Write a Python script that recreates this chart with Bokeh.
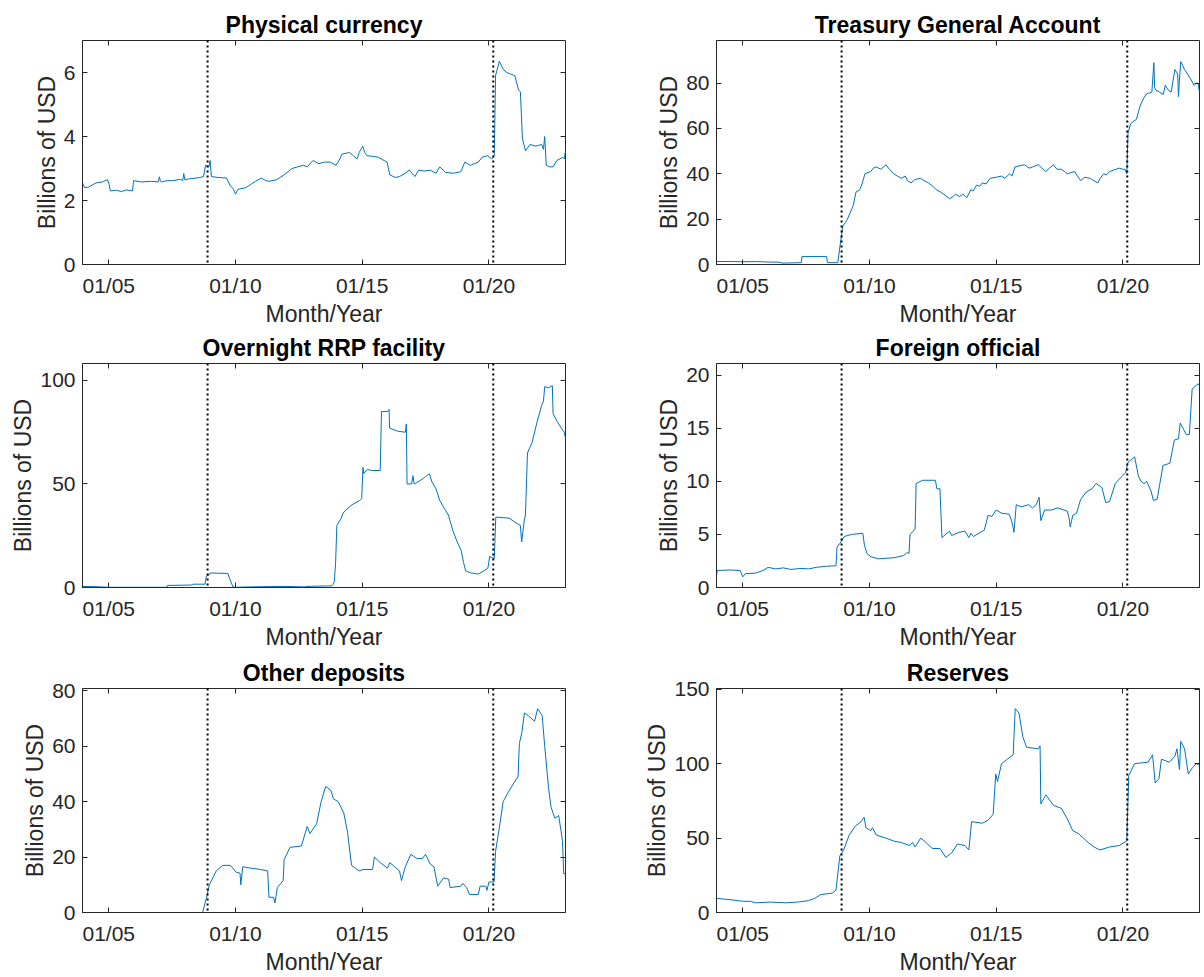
from bokeh.plotting import figure
from bokeh.models import Range1d, FixedTicker, LinearAxis, Span
from bokeh.layouts import column, row
from bokeh.embed import file_html
from bokeh.resources import INLINE

# ---------------- data (decimal year, billions of USD) ----------------
X_START, X_END = 2003.965, 2023.02
x_tick_years = [2005, 2010, 2015, 2020]
x_tick_labels = ["01/05", "01/10", "01/15", "01/20"]
event_years = [2008.9, 2020.17]

titles = ["Physical currency", "Treasury General Account", "Overnight RRP facility",
          "Foreign official", "Other deposits", "Reserves"]
y_limits = [7.0, 98.8, 108.2, 21.1, 80.8, 150.5]
y_ticks = [[0, 2, 4, 6], [0, 20, 40, 60, 80], [0, 50, 100],
           [0, 5, 10, 15, 20], [0, 20, 40, 60, 80], [0, 50, 100, 150]]

physical_currency = [
    (2003.965, 2.55), (2004.05, 2.4), (2004.2, 2.42), (2004.5, 2.55), (2004.75, 2.58),
    (2004.95, 2.65), (2005.02, 2.5), (2005.06, 2.3), (2005.3, 2.32), (2005.5, 2.28),
    (2005.7, 2.33), (2005.94, 2.3), (2005.98, 2.62), (2006.3, 2.58), (2006.7, 2.6),
    (2006.95, 2.58), (2007.0, 2.74), (2007.04, 2.6), (2007.08, 2.58), (2007.3, 2.62),
    (2007.53, 2.62), (2007.8, 2.66), (2007.92, 2.63), (2007.96, 2.84), (2008.0, 2.65),
    (2008.2, 2.68), (2008.44, 2.7), (2008.6, 2.72), (2008.74, 2.75), (2008.82, 3.1),
    (2008.95, 3.05), (2009.0, 3.25), (2009.05, 2.75), (2009.3, 2.72), (2009.65, 2.7),
    (2009.8, 2.45), (2009.9, 2.38), (2010.0, 2.2), (2010.1, 2.35), (2010.41, 2.4),
    (2010.6, 2.5), (2010.79, 2.6), (2011.02, 2.7), (2011.2, 2.62), (2011.32, 2.6),
    (2011.62, 2.65), (2011.92, 2.8), (2012.23, 3.0), (2012.45, 3.05), (2012.68, 3.1),
    (2012.83, 3.05), (2013.06, 3.25), (2013.29, 3.15), (2013.5, 3.2), (2013.74, 3.2),
    (2013.97, 3.1), (2014.12, 3.3), (2014.2, 3.45), (2014.5, 3.5), (2014.65, 3.4),
    (2014.8, 3.3), (2014.88, 3.5), (2015.02, 3.7), (2015.1, 3.5), (2015.18, 3.4),
    (2015.4, 3.38), (2015.64, 3.35), (2015.86, 3.25), (2015.98, 3.2), (2016.09, 2.8),
    (2016.3, 2.72), (2016.47, 2.75), (2016.7, 2.85), (2016.85, 2.95), (2017.08, 2.75),
    (2017.23, 2.95), (2017.45, 2.92), (2017.68, 2.95), (2017.91, 2.85), (2018.06, 3.05),
    (2018.29, 2.88), (2018.6, 2.85), (2018.89, 2.9), (2019.05, 3.2), (2019.27, 3.1),
    (2019.58, 3.2), (2019.73, 3.35), (2019.95, 3.4), (2020.11, 3.3), (2020.17, 3.35),
    (2020.21, 3.4), (2020.26, 5.9), (2020.41, 6.35), (2020.56, 6.1), (2020.7, 6.0),
    (2020.86, 5.95), (2021.02, 5.9), (2021.17, 5.45), (2021.24, 5.4), (2021.32, 3.95),
    (2021.44, 3.55), (2021.62, 3.75), (2021.85, 3.7), (2022.08, 3.75), (2022.15, 3.6),
    (2022.2, 4.0), (2022.26, 3.1), (2022.4, 3.05), (2022.53, 3.05), (2022.68, 3.25),
    (2022.91, 3.35), (2022.97, 3.3), (2023.02, 3.55),
]

treasury_general_account = [
    (2003.97, 1.3), (2004.5, 1.35), (2005.0, 1.2), (2005.5, 1.3), (2006.0, 1.1),
    (2006.47, 1.0), (2006.55, 0.6), (2007.31, 0.8), (2007.34, 3.5), (2008.31, 3.5),
    (2008.34, 0.8), (2008.75, 0.8), (2008.86, 10), (2008.95, 17), (2009.05, 18.5),
    (2009.13, 20), (2009.36, 26), (2009.47, 32), (2009.62, 33), (2009.72, 36),
    (2009.82, 40), (2010.05, 41), (2010.15, 42.5), (2010.27, 43), (2010.45, 42),
    (2010.65, 44), (2010.75, 42.5), (2010.96, 40), (2011.1, 39), (2011.26, 38),
    (2011.41, 39), (2011.5, 37), (2011.64, 36), (2011.8, 37.5), (2012.02, 38),
    (2012.15, 37), (2012.33, 36), (2012.5, 34.5), (2012.63, 33), (2012.8, 32),
    (2012.93, 31), (2013.16, 29), (2013.3, 30), (2013.39, 31), (2013.55, 30),
    (2013.7, 31), (2013.84, 29.5), (2014.0, 33), (2014.1, 32.5), (2014.22, 35),
    (2014.35, 34.5), (2014.45, 36), (2014.6, 35.5), (2014.76, 38), (2015.0, 38.5),
    (2015.21, 39), (2015.35, 38), (2015.52, 40), (2015.62, 39), (2015.74, 43),
    (2015.9, 43.5), (2016.12, 44), (2016.3, 42.5), (2016.43, 43), (2016.66, 44),
    (2016.8, 42.5), (2016.96, 41), (2017.1, 42.5), (2017.26, 44), (2017.4, 42),
    (2017.57, 42), (2017.7, 41), (2017.8, 40), (2017.95, 40.5), (2018.1, 41),
    (2018.2, 39), (2018.33, 37), (2018.5, 38.5), (2018.71, 38), (2018.85, 37),
    (2019.01, 36), (2019.1, 38), (2019.24, 40), (2019.35, 39.5), (2019.47, 41),
    (2019.6, 41.5), (2019.85, 42.5), (2020.0, 42), (2020.08, 42), (2020.15, 40),
    (2020.2, 58), (2020.3, 62), (2020.4, 63), (2020.53, 64), (2020.68, 70),
    (2020.8, 73), (2020.91, 75), (2021.0, 75.5), (2021.14, 76), (2021.22, 89),
    (2021.25, 78), (2021.29, 77), (2021.45, 76), (2021.59, 75), (2021.67, 79),
    (2021.78, 77), (2021.9, 76), (2022.05, 86), (2022.16, 84), (2022.19, 74),
    (2022.22, 80), (2022.28, 89.5), (2022.35, 88), (2022.43, 86), (2022.55, 84),
    (2022.66, 82), (2022.81, 79), (2022.9, 80), (2022.96, 80), (2023.02, 76),
]

overnight_rrp = [
    (2003.965, 0.5), (2004.5, 0.4), (2005.0, 0.1), (2007.3, 0.1), (2007.32, 1.0),
    (2008.3, 1.2), (2008.32, 1.6), (2008.8, 1.6), (2008.85, 5.5), (2008.95, 6.0),
    (2009.0, 7.0), (2009.7, 6.8), (2009.78, 4.0), (2009.9, 0.3), (2010.0, 0.1),
    (2011.0, 0.4), (2012.0, 0.5), (2012.7, 0.3), (2013.0, 0.6), (2013.8, 0.8),
    (2013.85, 1.5), (2013.9, 3.0), (2013.95, 12), (2014.0, 30), (2014.15, 33),
    (2014.25, 36), (2014.4, 38), (2014.6, 40), (2014.9, 42), (2014.98, 43),
    (2015.03, 58), (2015.06, 55), (2015.2, 57), (2015.4, 56.5), (2015.71, 56.5),
    (2015.76, 85), (2016.0, 85), (2016.06, 86), (2016.08, 77), (2016.4, 75.5),
    (2016.7, 75), (2016.74, 79), (2016.77, 50), (2016.95, 50), (2017.0, 54),
    (2017.05, 50), (2017.2, 51), (2017.45, 53), (2017.65, 55), (2017.75, 51),
    (2017.9, 48), (2018.06, 42), (2018.25, 38), (2018.4, 35), (2018.59, 27),
    (2018.75, 22), (2018.9, 18), (2019.0, 12), (2019.08, 8), (2019.3, 7),
    (2019.58, 6.5), (2019.8, 8), (2019.96, 9.5), (2020.03, 15), (2020.21, 14),
    (2020.27, 34), (2020.79, 33.5), (2021.1, 31), (2021.24, 30), (2021.29, 22),
    (2021.4, 33), (2021.44, 35), (2021.52, 65), (2021.7, 70), (2021.9, 80),
    (2022.08, 88), (2022.15, 90), (2022.2, 97), (2022.35, 96.5), (2022.5, 97.5),
    (2022.53, 84), (2022.7, 80), (2022.91, 76), (2022.97, 75), (2023.02, 72),
]

foreign_official = [
    (2003.97, 1.2), (2004.0, 1.6), (2004.5, 1.65), (2004.9, 1.6), (2005.0, 1.0),
    (2005.1, 1.3), (2005.5, 1.35), (2005.8, 1.6), (2006.0, 1.9), (2006.3, 1.75),
    (2006.6, 1.85), (2006.9, 1.7), (2007.3, 1.8), (2007.6, 1.75), (2007.9, 1.9),
    (2008.3, 2.0), (2008.68, 2.05), (2008.72, 3.8), (2008.85, 4.2), (2009.0, 4.8),
    (2009.3, 5.0), (2009.74, 5.1), (2009.8, 4.0), (2009.9, 3.2), (2010.05, 2.9),
    (2010.35, 2.7), (2010.96, 2.8), (2011.34, 3.0), (2011.5, 3.3), (2011.56, 3.2),
    (2011.6, 5.0), (2011.8, 5.5), (2011.84, 9.8), (2012.1, 10.1), (2012.6, 10.1),
    (2012.66, 9.3), (2012.78, 9.3), (2012.86, 4.7), (2013.0, 5.0), (2013.16, 5.3),
    (2013.24, 4.9), (2013.54, 5.2), (2013.77, 5.3), (2013.92, 4.7), (2014.0, 5.1),
    (2014.1, 4.8), (2014.38, 5.2), (2014.53, 5.4), (2014.68, 6.8), (2014.83, 6.7),
    (2015.0, 7.3), (2015.21, 7.0), (2015.52, 6.9), (2015.64, 6.0), (2015.7, 5.2),
    (2015.79, 7.8), (2015.98, 7.6), (2016.28, 7.8), (2016.43, 7.5), (2016.58, 7.8),
    (2016.69, 8.5), (2016.76, 6.3), (2016.91, 7.3), (2017.19, 7.3), (2017.42, 7.5),
    (2017.8, 7.2), (2017.87, 6.6), (2017.92, 5.7), (2018.02, 6.8), (2018.17, 7.0),
    (2018.33, 8.3), (2018.56, 9.0), (2018.78, 9.3), (2018.94, 9.8), (2019.17, 9.4),
    (2019.32, 8.0), (2019.47, 8.1), (2019.7, 9.8), (2019.85, 10.2), (2020.1, 10.8),
    (2020.2, 11.8), (2020.46, 12.3), (2020.61, 10.5), (2020.71, 10.0), (2020.83, 9.8),
    (2020.94, 10.0), (2021.12, 9.0), (2021.2, 8.2), (2021.35, 8.3), (2021.58, 11.5),
    (2021.85, 11.7), (2022.03, 13.9), (2022.19, 14.0), (2022.26, 15.5), (2022.5, 14.4),
    (2022.62, 14.4), (2022.73, 18.7), (2022.88, 19.0), (2022.96, 19.2), (2023.02, 19.0),
]

other_deposits = [
    (2003.965, 0.0), (2008.7, 0.0), (2008.85, 5), (2008.97, 10), (2009.24, 15),
    (2009.5, 17), (2009.8, 17), (2010.03, 14.5), (2010.18, 14.2), (2010.21, 10),
    (2010.29, 16.5), (2010.6, 16), (2011.0, 15.5), (2011.27, 15), (2011.32, 5.5),
    (2011.5, 5.5), (2011.56, 3.5), (2011.65, 9), (2011.88, 11.5), (2011.92, 19),
    (2012.15, 23.5), (2012.6, 24), (2012.83, 31), (2012.94, 28.5), (2013.2, 32),
    (2013.38, 40), (2013.56, 45.5), (2013.77, 44), (2013.86, 41), (2014.05, 40),
    (2014.27, 36), (2014.42, 29), (2014.58, 17), (2014.73, 16), (2014.88, 15),
    (2015.03, 15.5), (2015.41, 15.5), (2015.48, 20), (2015.71, 18), (2016.0, 16),
    (2016.09, 18), (2016.47, 15), (2016.55, 11.5), (2016.7, 16.5), (2016.92, 21),
    (2017.15, 19.5), (2017.38, 19.5), (2017.5, 21), (2017.68, 17.5), (2017.83, 16.5),
    (2017.98, 9.5), (2018.21, 12.5), (2018.41, 12), (2018.47, 9), (2018.89, 9.5),
    (2018.97, 10.5), (2019.12, 9), (2019.23, 6.5), (2019.58, 6.5), (2019.65, 9.5),
    (2019.88, 9.5), (2019.92, 8), (2020.0, 11), (2020.2, 11), (2020.26, 22),
    (2020.4, 30), (2020.56, 40), (2020.8, 44), (2021.0, 47), (2021.15, 49),
    (2021.2, 61), (2021.3, 65), (2021.4, 72), (2021.55, 71), (2021.8, 69),
    (2021.92, 73.5), (2022.1, 71), (2022.2, 60), (2022.35, 45), (2022.45, 38),
    (2022.6, 34), (2022.75, 35), (2022.9, 26), (2022.95, 14), (2023.02, 14),
]

reserves = [
    (2003.97, 9.5), (2004.57, 8.5), (2005.03, 7.5), (2005.3, 7.5), (2005.5, 6.5),
    (2006.1, 7.0), (2006.7, 6.5), (2007.16, 7.0), (2007.6, 8.0), (2007.84, 9.5),
    (2008.07, 12), (2008.53, 13), (2008.68, 15), (2008.83, 38), (2008.98, 42),
    (2009.2, 52), (2009.44, 58), (2009.67, 61), (2009.79, 64), (2009.86, 57),
    (2010.05, 55), (2010.12, 57), (2010.27, 52), (2010.65, 50), (2010.96, 48),
    (2011.26, 47), (2011.57, 45), (2011.7, 47), (2011.8, 44), (2012.02, 50),
    (2012.17, 48), (2012.48, 43), (2012.78, 43), (2013.01, 37), (2013.24, 40),
    (2013.47, 46), (2013.77, 45), (2013.92, 42), (2014.03, 61), (2014.45, 60),
    (2014.68, 62), (2014.88, 66), (2014.98, 93), (2015.05, 88), (2015.21, 100),
    (2015.44, 103), (2015.67, 106), (2015.75, 137), (2015.9, 134), (2016.05, 118),
    (2016.2, 111), (2016.66, 110), (2016.73, 112), (2016.76, 73), (2016.96, 79),
    (2017.26, 72), (2017.57, 70), (2017.8, 63), (2018.02, 55), (2018.25, 53),
    (2018.63, 47), (2018.86, 44), (2019.09, 42), (2019.47, 44), (2019.85, 45),
    (2020.15, 48), (2020.23, 92), (2020.46, 100), (2020.99, 101), (2021.17, 106),
    (2021.27, 87), (2021.42, 90), (2021.52, 103), (2021.83, 101), (2022.05, 105),
    (2022.13, 110), (2022.23, 96), (2022.28, 115), (2022.43, 110), (2022.58, 93),
    (2022.73, 97), (2022.89, 100), (2023.02, 99),
]

series = [physical_currency, treasury_general_account, overnight_rrp,
          foreign_official, other_deposits, reserves]

# ---------------- styling ----------------
FONT = "Liberation Sans"
AX_COLOR = "#262626"
LINE_COLOR = "#0072BD"
FRAME_W, FRAME_H = 483, 224
BORDER_TOP, BORDER_BOTTOM = 40, 70
row_shift = [0, -11, -9]  # pull rows 2 and 3 up (borders are transparent)


def make_panel(i):
    r, c = divmod(i, 2)
    left, right = (82, 20) if c == 0 else (131, 3)
    p = figure(frame_width=FRAME_W, frame_height=FRAME_H,
               x_range=Range1d(X_START, X_END), y_range=Range1d(0, y_limits[i]),
               output_backend="svg", toolbar_location=None, tools="",
               min_border_left=left, min_border_right=right,
               min_border_top=BORDER_TOP, min_border_bottom=BORDER_BOTTOM)
    p.background_fill_color = "white"
    p.border_fill_color = None
    p.outline_line_color = AX_COLOR
    p.outline_line_width = 1
    p.xgrid.visible = False
    p.ygrid.visible = False

    p.title.text = titles[i]
    p.title.align = "center"
    p.title.text_font = FONT
    p.title.text_font_size = "23px"
    p.title.text_font_style = "bold"
    p.title.text_color = "black"
    p.title.standoff = 6

    xs = [pt[0] for pt in series[i]]
    ys = [pt[1] for pt in series[i]]
    p.line(xs, ys, line_color=LINE_COLOR, line_width=1)

    for ev in event_years:
        p.add_layout(Span(location=ev, dimension="height", line_color="black",
                          line_width=2, line_dash="2 3"))

    xa = p.xaxis[0]
    xa.ticker = FixedTicker(ticks=x_tick_years)
    xa.major_label_overrides = {yr: lab for yr, lab in zip(x_tick_years, x_tick_labels)}
    xa.axis_label = "Month/Year"
    xa.major_label_standoff = 9
    xa.axis_label_standoff = 1

    ya = p.yaxis[0]
    ya.ticker = FixedTicker(ticks=y_ticks[i])
    ya.axis_label = "Billions of USD"
    ya.major_label_standoff = 7
    ya.axis_label_standoff = 1

    for ax in (xa, ya):
        ax.major_label_text_font = FONT
        ax.major_label_text_font_size = "21px"
        ax.major_label_text_color = AX_COLOR
        ax.axis_label_text_font = FONT
        ax.axis_label_text_font_size = "23px"
        ax.axis_label_text_font_style = "normal"
        ax.axis_label_text_color = AX_COLOR
        ax.axis_line_color = AX_COLOR
        ax.major_tick_line_color = AX_COLOR
        ax.major_tick_in = 5
        ax.major_tick_out = 0
        ax.minor_tick_line_color = None

    # box ticks on top and right (MATLAB style), no labels drawn
    top_ax = LinearAxis(ticker=FixedTicker(ticks=x_tick_years),
                        major_label_text_font_size="1px", major_label_text_color=None,
                        major_label_standoff=0,
                        major_tick_in=5, major_tick_out=0, axis_line_color=None,
                        major_tick_line_color=AX_COLOR, minor_tick_line_color=None)
    right_ax = LinearAxis(ticker=FixedTicker(ticks=y_ticks[i]),
                          major_label_text_font_size="1px", major_label_text_color=None,
                          major_label_standoff=0,
                          major_tick_in=5, major_tick_out=0, axis_line_color=None,
                          major_tick_line_color=AX_COLOR, minor_tick_line_color=None)
    p.add_layout(top_ax, "above")
    p.add_layout(right_ax, "right")
    return p


panels = [make_panel(i) for i in range(6)]
rows = [row(panels[2 * k], panels[2 * k + 1], margin=(row_shift[k], 0, 0, 0)) for k in range(3)]
layout = column(*rows)

open("out.html", "w").write(file_html(layout, INLINE))
